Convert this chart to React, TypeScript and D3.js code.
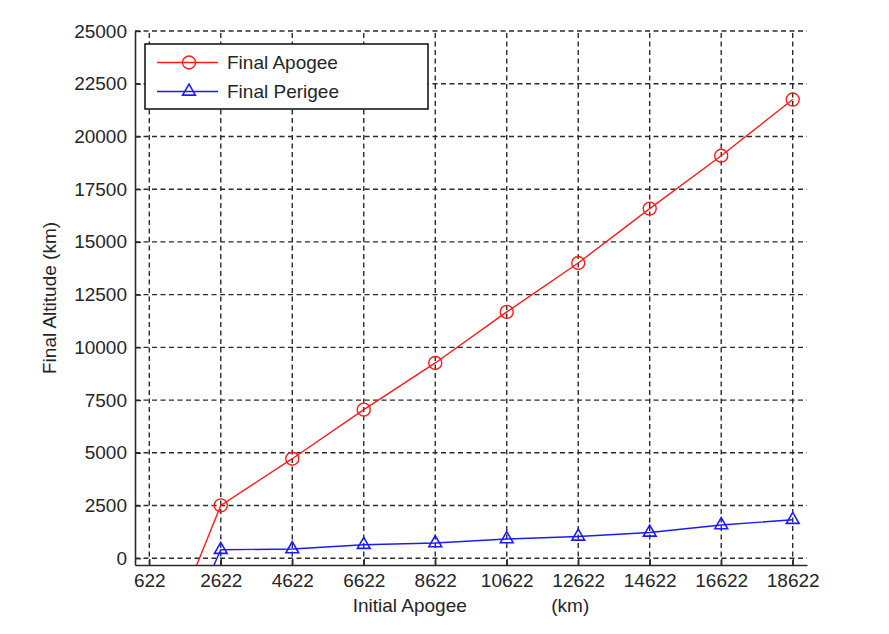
import React, { useEffect, useRef } from 'react';
import * as d3 from 'd3';

// values
const initialApogee = [622, 2622, 4622, 6622, 8622, 10622, 12622, 14622, 16622, 18622];
const finalApogee = [-5900, 2505, 4720, 7045, 9260, 11680, 14000, 16580, 19085, 21750];
const finalPerigee = [-7200, 403, 436, 640, 721, 911, 1034, 1224, 1575, 1826];

const xTicks = [622, 2622, 4622, 6622, 8622, 10622, 12622, 14622, 16622, 18622];
const yTicks = [0, 2500, 5000, 7500, 10000, 12500, 15000, 17500, 20000, 22500, 25000];

const seriesNames = ['Final Apogee', 'Final Perigee'];
const seriesColors = ['#ff1a1a', '#1a1aff'];

const W = 889;
const H = 634;
const FONT = "'Liberation Sans', Arial, Helvetica, sans-serif";

export default function App() {
    const ref = useRef<SVGSVGElement>(null);

    useEffect(() => {
        const svg = d3.select(ref.current);
        svg.selectAll('*').remove();

        const left = 135, right = 807, top = 31, bottom = 565;

        const x = d3.scaleLinear().domain([222, 19022]).range([left, right]);
        const y = d3.scaleLinear().domain([-320, 25000]).range([bottom, top]);

        svg.append('rect').attr('width', W).attr('height', H).attr('fill', '#fff');

        svg.append('clipPath').attr('id', 'plotclip')
            .append('rect')
            .attr('x', left).attr('y', top)
            .attr('width', right - left).attr('height', bottom - top);

        // dashed grid
        const grid = svg.append('g')
            .attr('stroke', '#2b2b2b')
            .attr('stroke-width', 1.4)
            .attr('stroke-dasharray', '5,3.5');

        grid.selectAll('line.v').data(xTicks).join('line')
            .attr('class', 'v')
            .attr('x1', d => x(d)).attr('x2', d => x(d))
            .attr('y1', bottom).attr('y2', top);

        grid.selectAll('line.h').data(yTicks).join('line')
            .attr('class', 'h')
            .attr('x1', left).attr('x2', right)
            .attr('y1', d => y(d)).attr('y2', d => y(d));

        // axes
        const xAxis = svg.append('g')
            .attr('transform', `translate(0,${bottom})`)
            .call(d3.axisBottom(x).tickValues(xTicks).tickSizeInner(-6).tickSizeOuter(0).tickPadding(9).tickFormat(d3.format('d')));

        const yAxis = svg.append('g')
            .attr('transform', `translate(${left},0)`)
            .call(d3.axisLeft(y).tickValues(yTicks).tickSizeInner(-6).tickSizeOuter(0).tickPadding(8).tickFormat(d3.format('d')));

        [xAxis, yAxis].forEach(a => {
            a.attr('font-family', FONT).attr('font-size', 19);
            a.select('.domain').attr('stroke', '#2b2b2b').attr('stroke-width', 1.6);
            a.selectAll('.tick line').attr('stroke', '#2b2b2b').attr('stroke-width', 1.4);
            a.selectAll('.tick text').attr('fill', '#262626');
        });

        // axis labels
        svg.append('text')
            .attr('x', (left + right) / 2)
            .attr('y', 612)
            .attr('text-anchor', 'middle')
            .attr('font-family', FONT)
            .attr('font-size', 19)
            .attr('fill', '#262626')
            .style('white-space', 'pre')
            .text('Initial Apogee                (km)');

        svg.append('text')
            .attr('transform', `translate(56,${(top + bottom) / 2}) rotate(-90)`)
            .attr('text-anchor', 'middle')
            .attr('font-family', FONT)
            .attr('font-size', 19)
            .attr('fill', '#262626')
            .text('Final Altitude (km)');

        // data
        const plot = svg.append('g').attr('clip-path', 'url(#plotclip)');
        const line = d3.line<number>()
            .x((_, i) => x(initialApogee[i]));

        const tri = d3.symbol().type(d3.symbolTriangle).size(70);

        [finalApogee, finalPerigee].forEach((vals, s) => {
            plot.append('path')
                .datum(vals)
                .attr('d', line.y(d => y(d))(vals))
                .attr('fill', 'none')
                .attr('stroke', seriesColors[s])
                .attr('stroke-width', 1.4);

            const pts = plot.selectAll(`.m${s}`).data(vals).join('g')
                .attr('class', `m${s}`)
                .attr('transform', (d, i) => `translate(${x(initialApogee[i])},${y(d)})`);

            if (s === 0) {
                pts.append('circle').attr('r', 6.5)
                    .attr('fill', 'none').attr('stroke', seriesColors[s]).attr('stroke-width', 1.4);
            } else {
                pts.append('path').attr('d', tri() as string)
                    .attr('fill', 'none').attr('stroke', seriesColors[s]).attr('stroke-width', 1.6);
            }
        });

        // legend
        const lg = svg.append('g').attr('transform', 'translate(145,44)');
        lg.append('rect')
            .attr('width', 283).attr('height', 65)
            .attr('fill', '#fff')
            .attr('stroke', '#1a1a1a')
            .attr('stroke-width', 1.6);

        seriesNames.forEach((name, s) => {
            const row = lg.append('g').attr('transform', `translate(0,${18.5 + s * 29})`);
            row.append('line')
                .attr('x1', 12).attr('x2', 73)
                .attr('stroke', seriesColors[s]).attr('stroke-width', 1.4);
            if (s === 0) {
                row.append('circle').attr('cx', 44).attr('r', 6.5)
                    .attr('fill', 'none').attr('stroke', seriesColors[s]).attr('stroke-width', 1.4);
            } else {
                row.append('path').attr('d', tri() as string)
                    .attr('transform', 'translate(44,0)')
                    .attr('fill', 'none').attr('stroke', seriesColors[s]).attr('stroke-width', 1.6);
            }
            row.append('text')
                .attr('x', 82)
                .attr('dy', '0.35em')
                .attr('font-family', FONT)
                .attr('font-size', 19)
                .attr('fill', '#262626')
                .text(name);
        });
    }, []);

    return (
        <svg ref={ref} width={W} height={H}
            style={{ position: 'absolute', left: 0, top: 0, display: 'block' }} />
    );
}
